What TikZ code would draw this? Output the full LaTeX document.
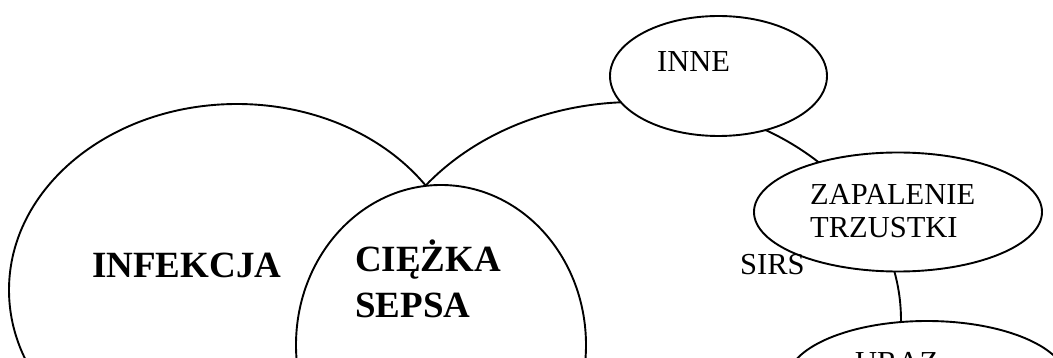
\documentclass[tikz,border=0pt]{standalone}
\usepackage{fontspec}
\setmainfont{Liberation Serif}
\usetikzlibrary{shapes.geometric}
\tikzset{
  blob/.style={ellipse, draw=black, fill=white, line width=1.9pt, inner sep=0pt, outer sep=0pt},
  lbl/.style={anchor=base west, inner sep=0pt, font=\fontsize{30.5}{33}\selectfont},
  boldlbl/.style={anchor=base west, inner sep=0pt, font=\fontsize{37}{45}\selectfont\bfseries},
}
\begin{document}
\begin{tikzpicture}[x=1pt,y=-1pt]
\useasboundingbox (0,0) rectangle (1053,358);
\clip (0,0) rectangle (1053,358);
% large sets, back to front
\node[blob, minimum width=532pt, minimum height=436pt] (sirs) at (635,320) {};
\node[blob, minimum width=456pt, minimum height=372pt] (infekcja) at (237,290) {};
\node[blob, minimum width=290pt, minimum height=320pt] (sepsa) at (441,345) {};
% small causes on the SIRS border
\node[blob, minimum width=217pt, minimum height=120pt] (inne) at (718.5,76) {};
\node[blob, minimum width=288pt, minimum height=119pt] (trzustka) at (898,212) {};
\node[blob, minimum width=280pt, minimum height=120pt] (uraz) at (927,381) {};
% labels
\node[boldlbl] (tinfekcja) at (92,278) {INFEKCJA};
\node[boldlbl] (tciezka) at (355,272) {CIĘŻKA};
\node[boldlbl] (tsepsa) at (355,317) {SEPSA};
\node[lbl] (tinne) at (657,72) {INNE};
\node[lbl] (tzapalenie) at (810,205) {ZAPALENIE};
\node[lbl] (ttrzustki) at (810,238) {TRZUSTKI};
\node[lbl] (turaz) at (855,372) {URAZ};
\node[lbl] (tsirs) at (740,275) {SIRS};
\end{tikzpicture}
\end{document}
